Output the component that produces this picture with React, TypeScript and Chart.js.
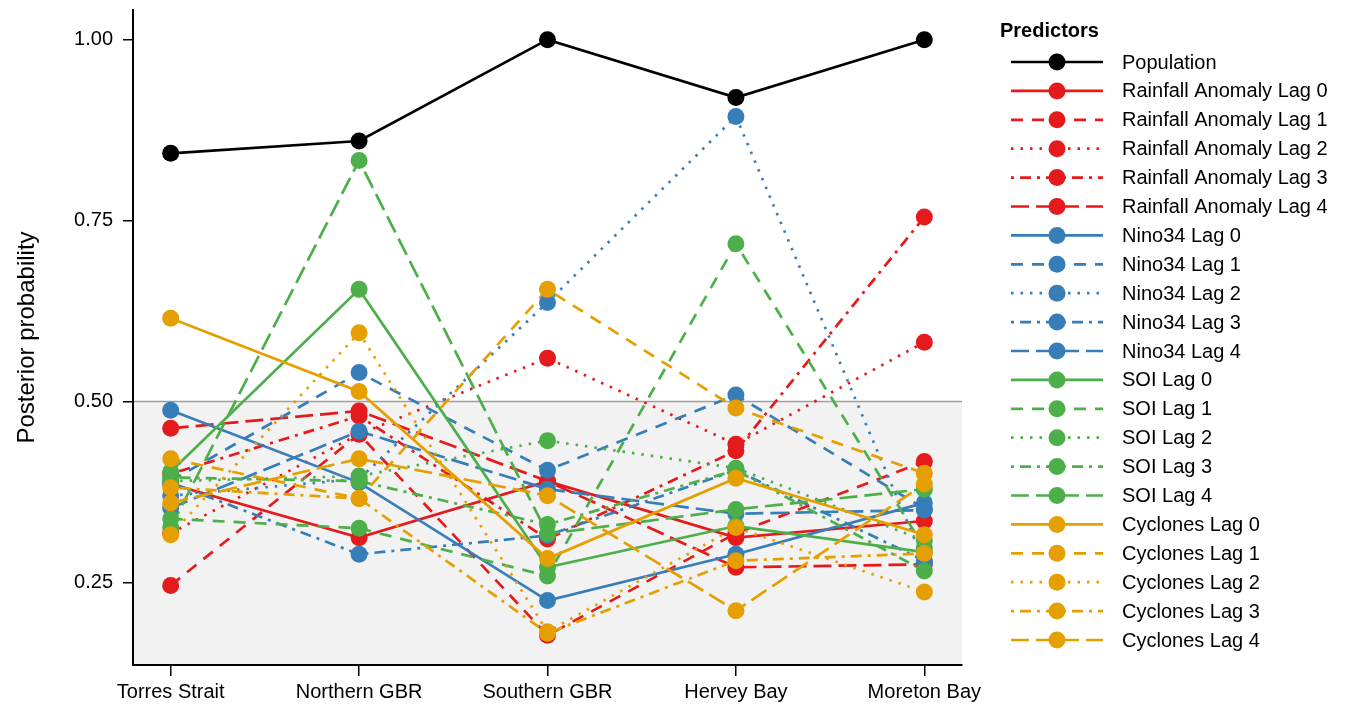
import React, { useEffect, useRef } from 'react';
import { Chart, registerables } from 'chart.js';

Chart.register(...registerables);

// ---- Data ----
const categories = ['Torres Strait', 'Northern GBR', 'Southern GBR', 'Hervey Bay', 'Moreton Bay'];
const yTicks = [0.25, 0.5, 0.75, 1.0];

const population = [0.843, 0.86, 1.0, 0.92, 1.0];
const rainfallLag0 = [0.386, 0.312, 0.39, 0.312, 0.335];
const rainfallLag1 = [0.246, 0.455, 0.177, 0.318, 0.417];
const rainfallLag2 = [0.318, 0.455, 0.56, 0.441, 0.582];
const rainfallLag3 = [0.4, 0.48, 0.31, 0.432, 0.755];
const rainfallLag4 = [0.463, 0.487, 0.39, 0.271, 0.275];
const nino34Lag0 = [0.488, 0.388, 0.225, 0.289, 0.36];
const nino34Lag1 = [0.39, 0.54, 0.405, 0.509, 0.352];
const nino34Lag2 = [0.37, 0.393, 0.637, 0.894, 0.278];
const nino34Lag3 = [0.388, 0.289, 0.315, 0.405, 0.28];
const nino34Lag4 = [0.353, 0.459, 0.379, 0.345, 0.35];
const soiLag0 = [0.403, 0.655, 0.271, 0.328, 0.292];
const soiLag1 = [0.338, 0.325, 0.259, 0.718, 0.298];
const soiLag2 = [0.39, 0.397, 0.446, 0.408, 0.308];
const soiLag3 = [0.395, 0.39, 0.33, 0.405, 0.266];
const soiLag4 = [0.326, 0.833, 0.317, 0.351, 0.379];
const cyclonesLag0 = [0.615, 0.514, 0.283, 0.394, 0.316];
const cyclonesLag1 = [0.421, 0.366, 0.655, 0.491, 0.401];
const cyclonesLag2 = [0.316, 0.595, 0.182, 0.326, 0.237];
const cyclonesLag3 = [0.381, 0.366, 0.18, 0.28, 0.29];
const cyclonesLag4 = [0.36, 0.421, 0.37, 0.211, 0.386];

// ---- Styles ----
const BLACK = '#000000';
const RED = '#E41A1C';
const BLUE = '#377EB8';
const GREEN = '#4DAF4A';
const ORANGE = '#E69F00';
const DASHES: number[][] = [[], [12, 9], [2.5, 7], [3, 6, 11, 6], [18, 7]];
const LW = 2.7;
const PR = 8.5;
const FONT = "'Liberation Sans', Arial, Helvetica, sans-serif";

const groups = [
  { name: 'Population', data: population, color: BLACK, lag: 0 },
  { name: 'Rainfall Anomaly Lag 0', data: rainfallLag0, color: RED, lag: 0 },
  { name: 'Rainfall Anomaly Lag 1', data: rainfallLag1, color: RED, lag: 1 },
  { name: 'Rainfall Anomaly Lag 2', data: rainfallLag2, color: RED, lag: 2 },
  { name: 'Rainfall Anomaly Lag 3', data: rainfallLag3, color: RED, lag: 3 },
  { name: 'Rainfall Anomaly Lag 4', data: rainfallLag4, color: RED, lag: 4 },
  { name: 'Nino34 Lag 0', data: nino34Lag0, color: BLUE, lag: 0 },
  { name: 'Nino34 Lag 1', data: nino34Lag1, color: BLUE, lag: 1 },
  { name: 'Nino34 Lag 2', data: nino34Lag2, color: BLUE, lag: 2 },
  { name: 'Nino34 Lag 3', data: nino34Lag3, color: BLUE, lag: 3 },
  { name: 'Nino34 Lag 4', data: nino34Lag4, color: BLUE, lag: 4 },
  { name: 'SOI Lag 0', data: soiLag0, color: GREEN, lag: 0 },
  { name: 'SOI Lag 1', data: soiLag1, color: GREEN, lag: 1 },
  { name: 'SOI Lag 2', data: soiLag2, color: GREEN, lag: 2 },
  { name: 'SOI Lag 3', data: soiLag3, color: GREEN, lag: 3 },
  { name: 'SOI Lag 4', data: soiLag4, color: GREEN, lag: 4 },
  { name: 'Cyclones Lag 0', data: cyclonesLag0, color: ORANGE, lag: 0 },
  { name: 'Cyclones Lag 1', data: cyclonesLag1, color: ORANGE, lag: 1 },
  { name: 'Cyclones Lag 2', data: cyclonesLag2, color: ORANGE, lag: 2 },
  { name: 'Cyclones Lag 3', data: cyclonesLag3, color: ORANGE, lag: 3 },
  { name: 'Cyclones Lag 4', data: cyclonesLag4, color: ORANGE, lag: 4 },
];

const toXY = (arr: number[]) => arr.map((v, i) => ({ x: i, y: v }));

const backgroundPlugin = {
  id: 'bgShade',
  beforeDraw(chart: any) {
    const { ctx, chartArea } = chart;
    const y = chart.scales.y;
    const y50 = y.getPixelForValue(0.5);
    ctx.save();
    ctx.fillStyle = '#F2F2F2';
    ctx.fillRect(chartArea.left, y50, chartArea.right - chartArea.left, chartArea.bottom - y50);
    ctx.strokeStyle = '#9E9E9E';
    ctx.lineWidth = 1.5;
    ctx.beginPath();
    ctx.moveTo(chartArea.left, y50);
    ctx.lineTo(chartArea.right, y50);
    ctx.stroke();
    ctx.restore();
  },
};

const legendPlugin = {
  id: 'ggLegend',
  afterDraw(chart: any) {
    const { ctx } = chart;
    ctx.save();
    ctx.fillStyle = '#000';
    ctx.textBaseline = 'middle';
    ctx.textAlign = 'left';
    ctx.font = `bold 20px ${FONT}`;
    ctx.fillText('Predictors', 1000, 31);
    ctx.font = `20px ${FONT}`;
    const x0 = 1011;
    const x1 = 1103;
    const xc = 1057;
    groups.forEach((g, i) => {
      const yy = 62 + i * 28.9;
      ctx.strokeStyle = g.color;
      ctx.lineWidth = LW;
      ctx.setLineDash(DASHES[g.lag]);
      ctx.beginPath();
      ctx.moveTo(x0, yy);
      ctx.lineTo(x1, yy);
      ctx.stroke();
      ctx.setLineDash([]);
      ctx.fillStyle = g.color;
      ctx.beginPath();
      ctx.arc(xc, yy, PR, 0, Math.PI * 2);
      ctx.fill();
      ctx.fillStyle = '#000';
      ctx.fillText(g.name, 1122, yy + 1);
    });
    ctx.restore();
  },
};

export default function App() {
  const ref = useRef<HTMLCanvasElement | null>(null);

  useEffect(() => {
    if (!ref.current) return;
    const lineSets = groups.map((g, i) => ({
      label: g.name,
      data: toXY(g.data),
      borderColor: g.color,
      backgroundColor: g.color,
      borderWidth: LW,
      borderDash: DASHES[g.lag],
      pointRadius: 0,
      pointHoverRadius: 0,
      showLine: true,
      fill: false,
      tension: 0,
      order: 200 - i,
    }));
    const pointSets = groups.map((g, i) => ({
      label: g.name + ' points',
      data: toXY(g.data),
      borderColor: g.color,
      backgroundColor: g.color,
      pointBackgroundColor: g.color,
      pointBorderWidth: 0,
      pointRadius: PR,
      pointHoverRadius: PR,
      showLine: false,
      fill: false,
      order: 100 - i,
    }));

    const chart = new Chart(ref.current, {
      type: 'line',
      data: { datasets: [...lineSets, ...pointSets] as any },
      options: {
        animation: false,
        responsive: false,
        events: [],
        layout: { padding: { left: 0, top: 10, right: 394, bottom: 0 } },
        plugins: { legend: { display: false }, tooltip: { enabled: false } },
        scales: {
          x: {
            type: 'linear',
            min: -0.2,
            max: 4.2,
            afterBuildTicks: (scale: any) => {
              scale.ticks = categories.map((_, i) => ({ value: i }));
            },
            afterFit: (scale: any) => {
              scale.height = 42;
              scale.paddingLeft = 0;
              scale.paddingRight = 0;
            },
            grid: {
              display: true,
              drawOnChartArea: false,
              drawTicks: true,
              tickLength: 11,
              color: '#000',
              lineWidth: 1.5,
            },
            border: { display: true, color: '#000', width: 2 },
            ticks: {
              autoSkip: false,
              maxRotation: 0,
              padding: 4,
              color: '#000',
              font: { family: FONT, size: 20 },
              callback: (v: any) => categories[Math.round(Number(v))] ?? '',
            },
          },
          y: {
            type: 'linear',
            min: 0.136,
            max: 1.041,
            afterBuildTicks: (scale: any) => {
              scale.ticks = yTicks.map((v) => ({ value: v }));
            },
            afterFit: (scale: any) => {
              scale.width = 133;
              scale.paddingTop = 0;
              scale.paddingBottom = 0;
            },
            grid: {
              display: true,
              drawOnChartArea: false,
              drawTicks: true,
              tickLength: 10,
              color: '#000',
              lineWidth: 1.5,
            },
            border: { display: true, color: '#000', width: 2 },
            ticks: {
              padding: 10,
              color: '#000',
              font: { family: FONT, size: 20 },
              callback: (v: any) => Number(v).toFixed(2),
            },
            title: {
              display: true,
              text: 'Posterior probability',
              color: '#000',
              font: { family: FONT, size: 24 },
              padding: { top: 13, bottom: 0 },
            },
          },
        },
      },
      plugins: [backgroundPlugin, legendPlugin],
    });
    return () => chart.destroy();
  }, []);

  return (
    <canvas
      ref={ref}
      width={1356}
      height={707}
      style={{ position: 'fixed', left: 0, top: 0, width: 1356, height: 707, background: '#fff' }}
    />
  );
}
